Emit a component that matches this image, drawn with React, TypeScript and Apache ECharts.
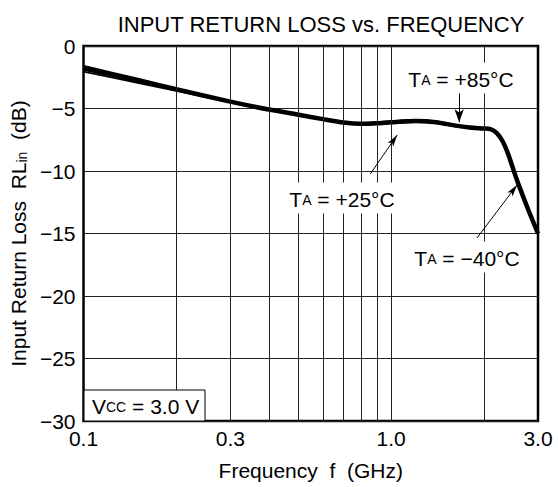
import React, { useEffect, useRef } from 'react';
import * as echarts from 'echarts';

// Frequency (GHz) sample points along the curves
const frequencyGHz = [0.1, 0.15, 0.2, 0.3, 0.4, 0.5, 0.6, 0.7, 0.8, 0.9, 1.0, 1.2, 1.4, 1.6, 1.8, 2.0, 2.1, 2.2, 2.3, 2.4, 2.5, 2.6, 2.8, 3.0];
// Input return loss (dB) per temperature
const rlPlus25 = [-1.7, -2.72, -3.45, -4.45, -5.08, -5.5, -5.85, -6.12, -6.22, -6.18, -6.1, -6.0, -6.1, -6.35, -6.52, -6.6, -6.65, -6.95, -7.6, -8.65, -9.95, -11.15, -13.2, -15.0];
const rlMinus40 = [-1.9, -2.86, -3.53, -4.48, -5.1, -5.52, -5.87, -6.15, -6.27, -6.24, -6.17, -6.08, -6.17, -6.4, -6.55, -6.62, -6.66, -6.95, -7.6, -8.65, -9.95, -11.15, -13.2, -15.0];
const rlPlus85 = [-2.05, -2.95, -3.58, -4.5, -5.11, -5.51, -5.85, -6.1, -6.17, -6.1, -6.02, -5.92, -6.03, -6.3, -6.49, -6.58, -6.64, -6.95, -7.6, -8.65, -9.95, -11.15, -13.2, -15.0];

// Axis ticks / grid
const xTickLabels = [0.1, 0.3, 1.0, 3.0];
const xGridLines = [0.2, 0.3, 0.4, 0.5, 0.6, 0.7, 0.8, 0.9, 1.0, 2.0];
const yMin = -30;
const yMax = 0;
const yStep = 5;

const FONT = '"Liberation Sans", Arial, Helvetica, sans-serif';

function tempLabel(temp: string) {
  return `{t|T}{s|A}{t| = ${temp}}`;
}

export default function App() {
  const ref = useRef<HTMLDivElement>(null);

  useEffect(() => {
    if (!ref.current) return;
    const chart = echarts.init(ref.current, undefined, { renderer: 'svg' });

    const toPairs = (ys: number[]) => frequencyGHz.map((f, i) => [f, ys[i]]);

    const richTemp = {
      t: { fontSize: 21, fontFamily: FONT, color: '#000' },
      s: { fontSize: 14, fontFamily: FONT, color: '#000', verticalAlign: 'bottom', padding: [0, 0, 3, 0] },
    };

    const curve = (name: string, ys: number[], width: number, z: number) => ({
      name,
      type: 'line',
      data: toPairs(ys),
      showSymbol: false,
      smooth: 0.25,
      lineStyle: { color: '#000', width },
      z,
    });

    const option: any = {
      animation: false,
      backgroundColor: '#fff',
      title: {
        text: 'INPUT RETURN LOSS vs. FREQUENCY',
        left: 316,
        textAlign: 'center',
        top: 8,
        textStyle: { fontFamily: FONT, fontSize: 22, fontWeight: 'normal', color: '#000' },
      },
      grid: {
        left: 83,
        right: 20,
        top: 46,
        bottom: 66,
        show: true,
        borderColor: '#000',
        borderWidth: 2.5,
        backgroundColor: 'transparent',
      },
      xAxis: {
        type: 'log',
        logBase: 10,
        min: 0.1,
        max: 3,
        name: '{n|Frequency  f  (GHz)}',
        nameLocation: 'middle',
        nameGap: 39,
        nameTextStyle: { rich: { n: { fontFamily: FONT, fontSize: 21, color: '#000' } } },
        axisLine: { show: false },
        axisTick: { show: false },
        splitLine: { show: false },
        axisLabel: {
          customValues: xTickLabels,
          formatter: (v: number) => Number(v).toFixed(1),
          fontFamily: FONT,
          fontSize: 21,
          color: '#000',
          margin: 7,
          showMinLabel: true,
          showMaxLabel: true,
        },
      },
      yAxis: {
        type: 'value',
        min: yMin,
        max: yMax,
        interval: yStep,
        name: '{n|Input Return Loss  RL}{s|in}{n|  (dB)}',
        nameLocation: 'middle',
        nameGap: 46,
        nameTextStyle: {
          rich: {
            n: { fontFamily: FONT, fontSize: 21, color: '#000' },
            s: { fontFamily: FONT, fontSize: 14, color: '#000', verticalAlign: 'bottom' },
          },
        },
        axisLine: { show: false },
        axisTick: { show: false },
        splitLine: { show: true, lineStyle: { color: '#222', width: 1, type: 'solid' } },
        axisLabel: {
          formatter: (v: number) => (v < 0 ? '\u2212' + Math.abs(v) : String(v)),
          fontFamily: FONT,
          fontSize: 21,
          color: '#000',
          margin: 8,
        },
      },
      series: [
        {
          name: 'grid',
          type: 'line',
          data: [],
          z: 1,
          silent: true,
          markLine: {
            silent: true,
            symbol: ['none', 'none'],
            label: { show: false },
            lineStyle: { color: '#222', width: 1, type: 'solid' },
            emphasis: { disabled: true },
            data: xGridLines.map((v) => ({ xAxis: v })),
          },
        },
        curve('TA = +85°C', rlPlus85, 1.8, 3),
        curve('TA = −40°C', rlMinus40, 1.8, 3),
        curve('TA = +25°C', rlPlus25, 4.5, 4),
        {
          name: 'arrows',
          type: 'line',
          data: [],
          z: 5,
          silent: true,
          markLine: {
            silent: true,
            label: { show: false },
            lineStyle: { color: '#000', width: 1, type: 'solid' },
            emphasis: { disabled: true },
            data: [
              [
                { coord: [1.663, -3.68], symbol: 'none' },
                { coord: [1.663, -6.1], symbol: 'arrow', symbolSize: [7, 13] },
              ],
              [
                { coord: [0.855, -10.24], symbol: 'none' },
                { coord: [1.046, -7.12], symbol: 'arrow', symbolSize: [5, 12] },
              ],
              [
                { coord: [1.9, -15.36], symbol: 'none' },
                { coord: [2.565, -11.12], symbol: 'arrow', symbolSize: [5, 12] },
              ],
            ],
          },
        },
      ],
      graphic: [
        {
          type: 'text',
          x: 461,
          y: 78,
          z: 100,
          style: {
            text: tempLabel('+85°C'),
            rich: richTemp,
            align: 'center',
            verticalAlign: 'middle',
            backgroundColor: '#fff',
            padding: [6, 3, 4, 3],
          },
        },
        {
          type: 'text',
          x: 342,
          y: 198,
          z: 100,
          style: {
            text: tempLabel('+25°C'),
            rich: richTemp,
            align: 'center',
            verticalAlign: 'middle',
            backgroundColor: '#fff',
            padding: [6, 3, 4, 3],
          },
        },
        {
          type: 'text',
          x: 467,
          y: 257,
          z: 100,
          style: {
            text: tempLabel('\u221240°C'),
            rich: richTemp,
            align: 'center',
            verticalAlign: 'middle',
            backgroundColor: '#fff',
            padding: [6, 3, 4, 3],
          },
        },
        {
          type: 'rect',
          z: 100,
          shape: { x: 84, y: 390, width: 121, height: 31 },
          style: { fill: '#fff', stroke: '#000', lineWidth: 1 },
        },
        {
          type: 'text',
          x: 92,
          y: 406,
          z: 101,
          style: {
            text: '{t|V}{s|CC}{t| = 3.0 V}',
            rich: {
              t: { fontSize: 21, fontFamily: FONT, color: '#000' },
              s: { fontSize: 14, fontFamily: FONT, color: '#000', verticalAlign: 'bottom', padding: [0, 0, 3, 0] },
            },
            align: 'left',
            verticalAlign: 'middle',
          },
        },
      ],
    };

    chart.setOption(option);
    return () => chart.dispose();
  }, []);

  return (
    <div
      ref={ref}
      style={{ position: 'fixed', left: 0, top: 0, width: 558, height: 487, background: '#fff' }}
    />
  );
}
